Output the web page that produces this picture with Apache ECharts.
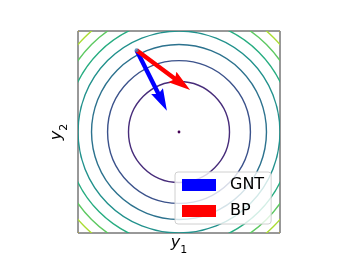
<!DOCTYPE html>
<html>
<head>
<meta charset="utf-8">
<script src="https://cdn.jsdelivr.net/npm/echarts@6/dist/echarts.min.js"></script>
<style>
  html, body { margin: 0; padding: 0; background: #fff; }
  #main { width: 349px; height: 262px; }
</style>
</head>
<body>
<div id="main"></div>
<script>
// contour levels of f = y1^2 + y2^2 on [-2, 2] x [-2, 2]
const levels = [0, 1, 2, 3, 4, 5, 6, 7, 8]
const levelColors = ['#440154', '#472c7a', '#3b528b', '#2c728e', '#21918c', '#27ad81', '#5ec962', '#aadc32', '#fde725']

// arrows: start point and the two update vectors
const startPoint = [-0.84, 1.62]
const gntStep = [0.6, -1.2]
const bpStep = [1.06, -0.79]

const axisRange = [-2, 2]

const chart = echarts.init(document.getElementById('main'))

/** 轮廓线：以原点为中心的圆 */
function renderContour(params, api) {
  const lv = api.value(2)
  const c = api.coord([api.value(0), api.value(1)])
  const color = levelColors[params.dataIndex]
  if (lv === 0) {
    return {
      type: 'circle',
      shape: { cx: c[0], cy: c[1], r: 1.4 },
      style: { fill: color, stroke: null }
    }
  }
  const r = api.size([Math.sqrt(lv), Math.sqrt(lv)])[0]
  return {
    type: 'circle',
    shape: { cx: c[0], cy: c[1], r: r },
    style: { fill: null, stroke: color, lineWidth: 1.4 }
  }
}

/** quiver 风格箭头 */
function renderArrow(params, api) {
  const p0 = api.coord([api.value(0), api.value(1)])
  const p1 = api.coord([api.value(0) + api.value(2), api.value(1) + api.value(3)])
  const dx = p1[0] - p0[0]
  const dy = p1[1] - p0[1]
  const len = Math.sqrt(dx * dx + dy * dy)
  const ux = dx / len
  const uy = dy / len
  const vx = -uy
  const vy = ux
  const w = 4.4
  // local (along, across) points
  const local = [
    [0, -w / 2],
    [len - 4.5 * w, -w / 2],
    [len - 5 * w, -1.5 * w],
    [len, 0],
    [len - 5 * w, 1.5 * w],
    [len - 4.5 * w, w / 2],
    [0, w / 2]
  ]
  const points = local.map(p => [p0[0] + ux * p[0] + vx * p[1], p0[1] + uy * p[0] + vy * p[1]])
  return {
    type: 'polygon',
    shape: { points: points },
    style: { fill: api.visual('color'), stroke: null }
  }
}

const labelRich = {
  a: { fontFamily: 'DejaVu Sans', fontStyle: 'italic', fontSize: 16, color: '#000', lineHeight: 18 },
  b: { fontFamily: 'DejaVu Sans', fontSize: 11, color: '#000', lineHeight: 11, verticalAlign: 'bottom', padding: [0, 0, -4, 0] }
}

const hiddenAxis = {
  type: 'value',
  min: axisRange[0],
  max: axisRange[1],
  axisLine: { show: false },
  axisTick: { show: false },
  axisLabel: { show: false },
  splitLine: { show: false },
  nameLocation: 'middle'
}

const option = {
  animation: false,
  backgroundColor: '#fff',
  grid: {
    left: 78,
    top: 31,
    width: 202,
    height: 202,
    show: true,
    borderColor: '#333',
    borderWidth: 1,
    backgroundColor: 'transparent'
  },
  xAxis: Object.assign({}, hiddenAxis, {
    name: '{a|y}{b|1}',
    nameGap: 1,
    nameTextStyle: { rich: labelRich }
  }),
  yAxis: Object.assign({}, hiddenAxis, {
    name: '{a|y}{b|2}',
    nameGap: 12,
    nameRotate: 90,
    nameTextStyle: { rich: labelRich }
  }),
  legend: {
    orient: 'vertical',
    left: 175,
    top: 172,
    data: [
      { name: 'GNT', icon: 'rect' },
      { name: 'BP', icon: 'rect' }
    ],
    itemWidth: 34,
    itemHeight: 12,
    itemGap: 10,
    padding: [5, 7, 5, 7],
    borderColor: '#d0d0d0',
    borderWidth: 1,
    borderRadius: 3,
    backgroundColor: 'rgba(255,255,255,0.8)',
    textStyle: { fontFamily: 'DejaVu Sans', fontSize: 16, color: '#000', padding: [0, 0, 0, 9] }
  },
  series: [
    {
      name: 'contour',
      type: 'custom',
      clip: true,
      silent: true,
      renderItem: renderContour,
      data: levels.map(lv => [0, 0, lv])
    },
    {
      name: 'GNT',
      type: 'custom',
      clip: true,
      itemStyle: { color: '#0000ff' },
      renderItem: renderArrow,
      data: [[startPoint[0], startPoint[1], gntStep[0], gntStep[1]]]
    },
    {
      name: 'BP',
      type: 'custom',
      clip: true,
      itemStyle: { color: '#ff0000' },
      renderItem: renderArrow,
      data: [[startPoint[0], startPoint[1], bpStep[0], bpStep[1]]]
    },
    {
      name: 'start',
      type: 'scatter',
      symbolSize: 4,
      itemStyle: { color: '#4a77b0' },
      data: [startPoint]
    }
  ]
}

chart.setOption(option)
</script>
</body>
</html>
